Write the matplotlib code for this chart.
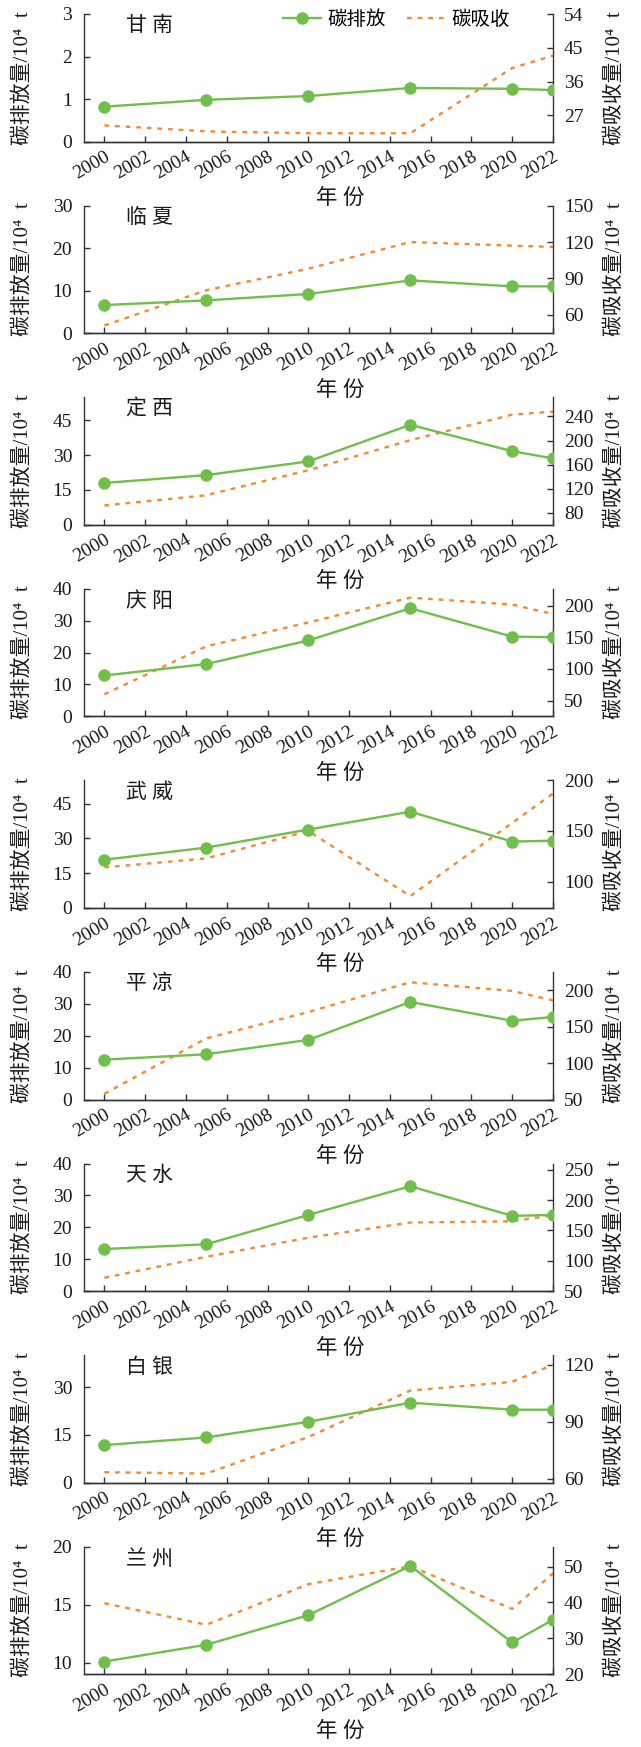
import matplotlib
matplotlib.use("Agg")
import matplotlib.pyplot as plt
import matplotlib.transforms as mtransforms

plt.rcParams['font.family'] = ['Liberation Serif', 'Noto Sans CJK SC', 'DejaVu Serif']

# data
years = [2000, 2005, 2010, 2015, 2020, 2022]
cities = ['甘 南', '临 夏', '定 西', '庆 阳', '武 威', '平 凉', '天 水', '白 银', '兰 州']

emission = [
    [0.82, 0.98, 1.07, 1.26, 1.24, 1.21],
    [6.6, 7.7, 9.2, 12.4, 11.0, 11.0],
    [18.0, 21.4, 27.3, 43.1, 31.7, 28.6],
    [12.8, 16.4, 23.8, 33.9, 25.0, 24.8],
    [20.8, 26.0, 33.8, 41.5, 28.6, 29.0],
    [12.5, 14.2, 18.7, 30.6, 24.7, 25.9],
    [13.2, 14.7, 23.9, 32.9, 23.6, 23.9],
    [11.8, 14.2, 19.1, 25.1, 22.9, 22.9],
    [10.1, 11.55, 14.1, 18.35, 11.75, 13.7],
]
absorption = [
    [24.3, 22.7, 22.2, 22.2, 39.6, 42.9],
    [51.3, 80.3, 98.0, 120.0, 117.0, 116.0],
    [92.0, 109.0, 150.6, 200.6, 243.0, 248.0],
    [60.0, 135.8, 173.7, 213.0, 202.0, 187.0],
    [114.0, 123.0, 150.0, 85.7, 158.0, 187.0],
    [57.8, 134.0, 170.0, 211.0, 199.0, 186.0],
    [72.0, 106.6, 138.0, 163.0, 165.0, 175.0],
    [63.5, 62.8, 82.0, 106.4, 111.0, 120.0],
    [39.8, 33.8, 45.1, 50.1, 38.2, 48.1],
]

# axis ranges / ticks for each panel
left_lim = [(0, 3), (0, 30), (0, 55), (0, 40), (0, 55), (0, 40), (0, 40), (0, 40), (9, 20)]
left_ticks = [[0, 1, 2, 3], [0, 10, 20, 30], [0, 15, 30, 45], [0, 10, 20, 30, 40],
              [0, 15, 30, 45], [0, 10, 20, 30, 40], [0, 10, 20, 30, 40], [0, 15, 30], [10, 15, 20]]
right_lim = [(20, 54), (45, 150), (60, 272), (25, 227), (74, 200), (50, 225), (50, 260), (58, 125), (20, 55.5)]
right_ticks = [[27, 36, 45, 54], [60, 90, 120, 150], [80, 120, 160, 200, 240], [50, 100, 150, 200],
               [100, 150, 200], [50, 100, 150, 200], [50, 100, 150, 200, 250], [60, 90, 120], [20, 30, 40, 50]]
xticks = list(range(2000, 2023, 2))

green = '#70BF4B'
orange = '#F28B32'
axcol = '#333333'
txtcol = '#1a1a1a'

W, H = 641, 1747
fig = plt.figure(figsize=(W / 100, H / 100), dpi=100)

ax_left, ax_right = 84, 553
top0, step, h = 14, 191.6, 127.5

for i, city in enumerate(cities):
    top = top0 + i * step
    ax = fig.add_axes([ax_left / W, 1 - (top + h) / H, (ax_right - ax_left) / W, h / H])
    ax2 = ax.twinx()

    l1, = ax.plot(years, emission[i], color=green, lw=1.7, marker='o', ms=8, zorder=3)
    l2, = ax2.plot(years, absorption[i], color=orange, lw=1.7, ls=(0, (2, 2.5)))
    ax.set_zorder(ax2.get_zorder() + 1)
    ax.patch.set_visible(False)

    ax.set_xlim(1999, 2022)
    ax.set_ylim(*left_lim[i])
    ax.set_yticks(left_ticks[i])
    ax2.set_ylim(*right_lim[i])
    ax2.set_yticks(right_ticks[i])
    ax.set_xticks(xticks)
    ax.set_xticklabels([str(y) for y in xticks], rotation=30, ha='right', rotation_mode='anchor')
    offset = mtransforms.ScaledTranslation(6 / 100, 0, fig.dpi_scale_trans)
    for lab in ax.get_xticklabels():
        lab.set_transform(lab.get_transform() + offset)

    for a in (ax, ax2):
        a.spines['top'].set_visible(False)
        for s in a.spines.values():
            s.set_color(axcol)
            s.set_linewidth(1.0)
        a.tick_params(direction='in', length=4, width=1.0, color=axcol, labelsize=14, labelcolor=txtcol)
    ax.tick_params(axis='x', pad=5)
    ax.tick_params(axis='y', pad=8.5)
    ax2.tick_params(axis='y', pad=8)
    ax2.spines['left'].set_visible(False)
    ax.spines['right'].set_visible(False)

    ax.set_ylabel('碳排放量/10⁴  t', fontsize=15, color=txtcol)
    ax.yaxis.set_label_coords(-0.109, 0.5)
    ax2.set_ylabel('碳吸收量/10⁴  t', fontsize=15, color=txtcol)
    ax2.yaxis.set_label_coords(1.111, 0.5)
    ax.set_xlabel('年 份', fontsize=15.5, color=txtcol)
    ax.xaxis.set_label_coords(0.546, -0.37)

    ax.text(0.09, 0.90, city, transform=ax.transAxes, fontsize=15, va='center', ha='left', color=txtcol)

    if i == 0:
        ax.legend([l1, l2], ['碳排放', '碳吸收'], loc='center left', bbox_to_anchor=(0.386, 0.957),
                  ncol=2, frameon=False, fontsize=14, handlelength=2.0, handletextpad=0.3,
                  columnspacing=1.1)

fig.savefig('out.png', dpi=100)
